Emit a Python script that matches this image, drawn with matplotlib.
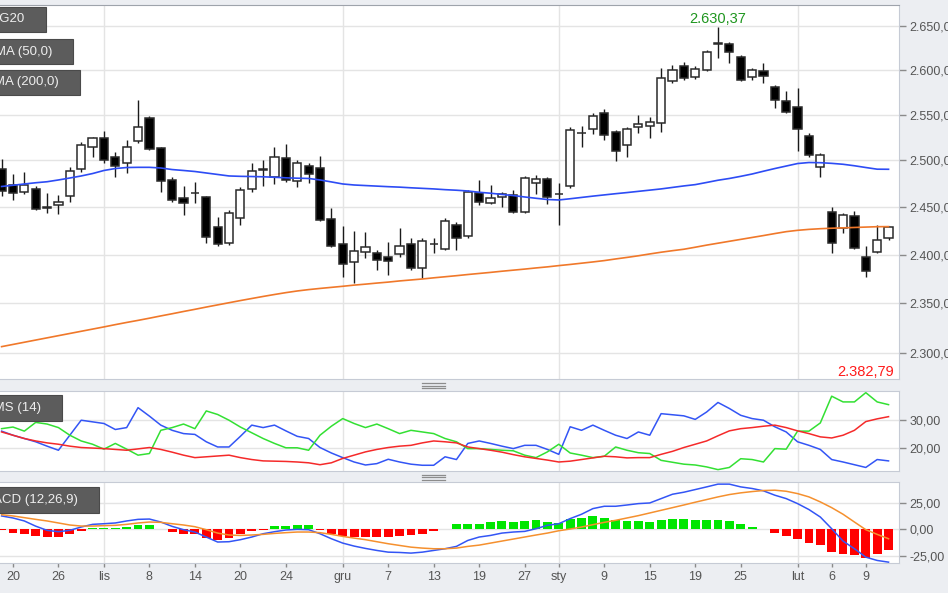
import numpy as np
import matplotlib
matplotlib.use('Agg')
import matplotlib.pyplot as plt
from matplotlib.patches import Rectangle
from matplotlib.lines import Line2D
from matplotlib.ticker import NullLocator

plt.rcParams['font.family'] = ['Liberation Sans', 'DejaVu Sans']

W, H = 948, 593

# --- WIG20 daily candles (Oct 2017 - Feb 2018) ---
opens = [2490.7, 2473.5, 2466.2, 2469.2, 2449.8, 2452.4, 2461.9, 2490.9, 2514.5, 2524.3,
         2503.7, 2497.2, 2521.2, 2546.3, 2513.3, 2478.8, 2459.7, 2465.1, 2460.5, 2428.9,
         2412.4, 2438.6, 2469.4, 2490.2, 2482.2, 2502.5, 2478.0, 2493.9, 2491.5, 2437.3,
         2410.9, 2392.5, 2402.8, 2401.7, 2397.6, 2400.8, 2410.9, 2386.3, 2411.2, 2406.2,
         2431.1, 2419.9, 2465.0, 2454.5, 2460.8, 2462.9, 2445.1, 2475.7, 2479.9, 2463.9,
         2473.0, 2529.8, 2534.4, 2551.9, 2531.0, 2516.9, 2536.7, 2537.8, 2541.1, 2587.6,
         2604.5, 2592.0, 2600.0, 2629.8, 2629.4, 2614.7, 2592.0, 2599.0, 2581.0, 2565.3,
         2558.7, 2526.7, 2493.0, 2444.6, 2428.1, 2440.3, 2397.5, 2402.9, 2417.6]
highs = [2501.4, 2485.2, 2487.5, 2472.4, 2465.0, 2462.9, 2492.8, 2519.8, 2525.3, 2531.9,
         2509.0, 2522.0, 2566.4, 2548.5, 2514.3, 2482.0, 2472.4, 2476.7, 2461.5, 2439.3,
         2446.7, 2471.1, 2497.0, 2500.3, 2514.3, 2517.6, 2500.4, 2497.1, 2505.4, 2448.8,
         2429.6, 2424.5, 2423.5, 2404.8, 2413.0, 2427.7, 2417.2, 2417.2, 2417.4, 2438.4,
         2434.2, 2468.0, 2478.7, 2473.4, 2466.1, 2468.2, 2483.1, 2484.2, 2482.0, 2475.6,
         2536.4, 2537.6, 2551.9, 2556.3, 2533.1, 2536.5, 2549.8, 2547.7, 2602.1, 2605.6,
         2609.0, 2604.5, 2622.6, 2648.9, 2631.7, 2617.0, 2602.3, 2608.0, 2583.2, 2576.5,
         2579.8, 2530.0, 2508.0, 2449.9, 2443.7, 2445.6, 2408.8, 2430.9, 2430.0]
lows = [2462.0, 2457.7, 2464.1, 2447.1, 2444.0, 2442.9, 2455.6, 2487.7, 2503.7, 2497.4,
        2482.3, 2486.6, 2519.1, 2511.5, 2466.4, 2455.6, 2441.9, 2454.6, 2412.5, 2409.2,
        2410.3, 2431.3, 2466.3, 2472.6, 2474.8, 2476.9, 2471.6, 2475.9, 2435.8, 2408.2,
        2377.1, 2371.0, 2396.7, 2384.3, 2379.2, 2397.7, 2384.3, 2376.1, 2401.9, 2405.2,
        2405.2, 2417.8, 2452.4, 2453.4, 2450.3, 2444.0, 2444.1, 2464.1, 2453.5, 2431.5,
        2470.9, 2514.7, 2529.0, 2522.4, 2499.6, 2504.0, 2530.2, 2524.7, 2531.4, 2585.3,
        2588.7, 2589.8, 2598.9, 2613.6, 2607.9, 2588.0, 2588.7, 2585.3, 2557.6, 2552.1,
        2510.5, 2504.0, 2482.3, 2402.0, 2422.9, 2406.1, 2377.0, 2401.9, 2415.5]
closes = [2467.3, 2465.1, 2473.5, 2448.2, 2449.3, 2455.5, 2488.5, 2516.6, 2524.3, 2500.6,
          2494.0, 2514.4, 2536.5, 2512.6, 2478.0, 2457.7, 2454.5, 2464.9, 2418.7, 2411.2,
          2443.6, 2468.0, 2488.5, 2490.7, 2503.6, 2479.0, 2497.1, 2485.4, 2436.7, 2409.3,
          2390.4, 2403.7, 2407.9, 2394.5, 2393.5, 2409.0, 2386.3, 2414.1, 2411.4, 2435.3,
          2417.6, 2465.9, 2455.5, 2459.7, 2464.0, 2445.0, 2480.9, 2479.9, 2460.9, 2464.0,
          2533.1, 2530.0, 2548.6, 2527.9, 2510.3, 2534.3, 2540.0, 2542.1, 2590.9, 2600.0,
          2590.9, 2601.1, 2620.3, 2630.37, 2620.3, 2588.7, 2600.0, 2593.2, 2566.4, 2553.2,
          2534.4, 2506.1, 2505.8, 2412.3, 2441.6, 2407.1, 2382.79, 2415.3, 2429.0]

sma50 = [2472.0, 2473.3, 2474.7, 2476.0, 2477.1, 2479.0, 2481.1, 2483.3, 2485.9, 2489.2,
         2491.3, 2492.4, 2492.6, 2492.6, 2491.9, 2490.2, 2489.2, 2488.1, 2486.5, 2484.9,
         2483.3, 2482.9, 2482.7, 2482.4, 2481.9, 2481.3, 2480.9, 2480.6, 2479.0, 2476.9,
         2474.7, 2473.6, 2473.0, 2472.4, 2471.8, 2471.3, 2470.6, 2470.0, 2469.4, 2468.6,
         2468.0, 2467.2, 2465.8, 2464.8, 2463.5, 2462.3, 2460.8, 2459.4, 2458.1, 2457.6,
         2458.9, 2460.3, 2461.7, 2463.0, 2464.3, 2465.5, 2466.8, 2468.1, 2469.4, 2471.0,
         2472.6, 2474.0, 2476.3, 2478.7, 2480.6, 2482.9, 2485.4, 2488.4, 2491.3, 2494.0,
         2496.7, 2497.8, 2497.6, 2496.9, 2495.9, 2494.3, 2492.4, 2490.6, 2490.5]
sma200 = [2306.3, 2308.5, 2310.7, 2312.9, 2315.1, 2317.3, 2319.5, 2321.7, 2323.9, 2326.1,
          2328.4, 2330.6, 2332.7, 2334.9, 2337.2, 2339.4, 2341.7, 2343.9, 2346.2, 2348.4,
          2350.6, 2352.8, 2354.9, 2357.0, 2359.0, 2360.9, 2362.6, 2364.0, 2365.2, 2366.3,
          2367.4, 2368.6, 2369.6, 2370.7, 2371.7, 2372.9, 2373.9, 2374.9, 2376.1, 2377.2,
          2378.3, 2379.5, 2380.6, 2381.7, 2382.9, 2384.0, 2385.1, 2386.3, 2387.4, 2388.7,
          2389.9, 2391.2, 2392.5, 2393.9, 2395.6, 2397.2, 2398.9, 2400.8, 2402.6, 2404.2,
          2405.7, 2407.8, 2410.0, 2412.0, 2414.0, 2416.0, 2418.0, 2420.0, 2422.1, 2424.1,
          2425.5, 2426.5, 2427.2, 2427.7, 2428.1, 2428.5, 2428.9, 2429.3, 2429.4]

# --- DMS (14) ---
dms_plus = [26.0, 24.5, 23.3, 22.1, 20.5, 19.0, 24.5, 30.0, 29.4, 28.8,
            26.6, 27.3, 34.6, 31.5, 28.2, 26.3, 25.1, 24.8, 22.1, 20.2,
            20.2, 24.1, 28.2, 27.3, 28.2, 26.1, 24.1, 23.3, 20.0, 18.0,
            16.3, 14.7, 13.6, 14.1, 15.7, 14.7, 13.9, 13.5, 13.5, 16.6,
            15.6, 21.5, 22.4, 21.5, 20.5, 19.6, 20.8, 20.8, 19.3, 17.5,
            27.6, 26.3, 28.2, 26.3, 24.5, 23.3, 25.7, 24.5, 32.4, 32.0,
            31.6, 30.3, 33.0, 36.5, 34.3, 31.8, 30.6, 30.0, 27.6, 25.7,
            22.1, 20.8, 19.3, 15.6, 14.7, 13.7, 12.7, 15.6, 15.1]
dms_minus = [26.9, 27.5, 26.0, 29.2, 28.6, 27.3, 24.5, 22.4, 21.2, 19.4,
             21.5, 19.4, 17.2, 17.8, 26.3, 27.3, 28.6, 26.9, 33.4, 32.1,
             30.0, 27.5, 25.4, 23.3, 21.5, 19.9, 19.9, 19.0, 24.5, 27.8,
             30.6, 28.8, 27.3, 28.6, 26.9, 25.1, 26.3, 25.7, 25.1, 23.3,
             22.1, 19.6, 19.6, 19.3, 19.0, 18.8, 17.2, 16.3, 18.4, 21.2,
             18.0, 17.2, 16.3, 16.8, 20.2, 19.0, 18.1, 17.8, 15.3, 14.6,
             13.9, 13.6, 12.9, 11.9, 12.7, 15.9, 15.6, 14.7, 19.6, 19.4,
             26.0, 26.0, 29.0, 38.8, 36.7, 36.7, 40.1, 36.7, 35.7]
adx = [25.7, 24.5, 23.3, 22.4, 21.7, 21.2, 20.5, 20.0, 19.8, 19.6,
       19.3, 19.0, 19.5, 20.0, 19.3, 18.3, 17.2, 16.3, 16.6, 16.9,
       17.2, 16.3, 15.6, 15.1, 15.0, 14.9, 14.7, 14.4, 13.7, 14.4,
       16.0, 17.2, 18.4, 19.3, 20.0, 20.5, 20.8, 21.7, 22.4, 22.1,
       21.7, 20.2, 19.6, 19.0, 18.3, 17.4, 16.6, 16.0, 15.4, 14.7,
       15.0, 15.6, 16.2, 16.8, 16.6, 16.2, 16.3, 16.3, 17.5, 18.6,
       20.0, 21.2, 22.4, 24.3, 26.1, 26.9, 27.3, 27.8, 28.2, 27.3,
       26.1, 25.1, 23.9, 23.5, 24.5, 26.3, 29.5, 30.5, 31.3]

# --- MACD (12,26,9) ---
macd = [12.6, 10.7, 7.9, 3.0, -0.9, -2.2, -0.9, 2.2, 4.7, 5.3,
        6.0, 7.9, 9.4, 9.7, 6.9, 2.8, -0.3, -2.5, -7.2, -11.9,
        -11.6, -9.7, -7.2, -4.1, -2.2, -0.6, 0.0, -0.3, -4.1, -8.8,
        -12.9, -15.7, -17.9, -19.8, -21.4, -21.7, -22.3, -21.4, -19.8, -18.2,
        -16.0, -10.4, -7.2, -5.7, -3.5, -2.5, -1.9, 0.6, 3.8, 5.3,
        10.1, 14.2, 19.5, 21.7, 21.7, 22.9, 24.2, 24.8, 28.9, 33.0,
        34.9, 37.4, 39.9, 42.5, 42.5, 39.9, 38.4, 36.2, 32.1, 28.9,
        24.2, 18.6, 11.6, 0.6, -11.0, -18.2, -26.1, -29.2, -30.8]
signal = [13.8, 12.6, 11.0, 9.4, 7.9, 6.0, 4.1, 3.1, 3.1, 3.5,
          3.8, 4.7, 6.0, 6.9, 6.6, 5.3, 4.1, 2.5, -0.3, -3.5,
          -5.3, -5.7, -5.3, -4.7, -3.8, -3.1, -2.5, -2.5, -3.1, -4.7,
          -6.6, -8.2, -9.7, -11.6, -13.5, -15.1, -16.7, -17.6, -18.2, -18.2,
          -17.6, -16.0, -14.8, -12.9, -11.0, -9.1, -7.2, -5.3, -3.5, -1.3,
          0.3, 2.2, 4.4, 6.6, 8.5, 10.7, 12.9, 15.4, 17.9, 20.4,
          22.9, 25.5, 28.0, 30.5, 32.7, 34.3, 35.5, 36.5, 36.8, 35.8,
          33.6, 30.5, 25.8, 20.4, 14.2, 6.9, -0.3, -4.7, -8.8]
hist = [-1.0, -3.5, -4.1, -6.6, -7.2, -7.2, -4.4, -1.2, 1.6, 1.6,
        1.6, 2.2, 3.8, 3.8, 0.6, -2.5, -4.7, -4.7, -7.9, -9.7,
        -7.9, -4.7, -1.9, -0.6, 3.1, 3.1, 3.8, 3.8, -0.6, -4.1,
        -6.6, -7.2, -7.2, -7.2, -7.2, -6.3, -5.0, -4.1, -1.9, 0.6,
        4.7, 5.3, 5.3, 6.9, 7.9, 6.9, 7.9, 8.5, 6.9, 6.0,
        9.4, 11.0, 12.3, 11.0, 9.1, 7.9, 7.5, 6.9, 9.1, 10.1,
        9.4, 9.1, 9.1, 9.1, 7.9, 4.7, 2.5, 0.3, -3.5, -6.3,
        -9.4, -12.9, -14.8, -21.4, -23.0, -24.5, -26.7, -23.0, -19.8]

# date labels (candle index -> label), month starts get a vertical grid line
tick_pos = [1, 5, 9, 13, 17, 21, 25, 30, 34, 38, 42, 46, 49, 53, 57, 61, 65, 70, 73, 76]
tick_lab = ['20', '26', 'lis', '8', '14', '20', '24', 'gru', '7', '13', '19', '27',
            'sty', '9', '15', '19', '25', 'lut', '6', '9']
month_pos = [9, 30, 49, 70]

price_ticks = [2300, 2350, 2400, 2450, 2500, 2550, 2600, 2650]
price_labels = ['2.300,00', '2.350,00', '2.400,00', '2.450,00', '2.500,00',
                '2.550,00', '2.600,00', '2.650,00']

BG = '#eceef2'
EDGE = '#c6cbd5'
GRID = '#e4e4e4'
TXT = '#555555'

o = np.array(opens); h = np.array(highs); l = np.array(lows); c = np.array(closes)
x = np.arange(len(c))

fig = plt.figure(figsize=(W / 100, H / 100), dpi=100, facecolor=BG)


def box(x0, y0, x1, y1):
    # pixel box (top-left origin) -> figure fraction rect
    return [x0 / W, 1 - y1 / H, (x1 - x0) / W, (y1 - y0) / H]


ax = fig.add_axes(box(0, 5, 899, 379))
ax_dms = fig.add_axes(box(0, 391, 899, 471), sharex=ax)
ax_macd = fig.add_axes(box(0, 482, 899, 563), sharex=ax)


def style(a, ticks, labels, lim):
    a.set_facecolor('white')
    a.set_ylim(*lim)
    a.yaxis.tick_right()
    a.set_yticks(ticks)
    a.set_yticklabels(labels)
    a.yaxis.set_minor_locator(NullLocator())
    a.tick_params(axis='y', length=5, width=1, color='#8a8a8a', labelcolor=TXT,
                  labelsize=9, pad=2.5)
    a.grid(True, axis='y', color=GRID, lw=1)
    for m in month_pos:
        a.axvline(m, color=GRID, lw=1, zorder=0)
    for s in a.spines.values():
        s.set_color(EDGE)
    a.spines['left'].set_visible(False)
    a.set_axisbelow(True)


ax.set_yscale('log')
style(ax, price_ticks, price_labels, (2274.2, 2674.2))
ax.spines['top'].set_color('#9ea3ab')
style(ax_dms, [20, 30], ['20,00', '30,00'], (11.4, 40.7))
style(ax_macd, [-25, 0, 25], ['-25,00', '0,00', '25,00'], (-31.6, 44.5))

ax.set_xlim(-0.14, 78.92)
ax_macd.set_xticks(tick_pos)
ax_macd.set_xticklabels(tick_lab)
for a in (ax, ax_dms):
    a.tick_params(axis='x', bottom=False, labelbottom=False)
ax_macd.tick_params(axis='x', length=3, width=1, color='#8a8a8a', labelcolor=TXT,
                    labelsize=9, pad=3)

# candles
up = c >= o
ax.vlines(x, l, h, color='#1a1a1a', lw=1, zorder=2)
ax.bar(x, np.abs(c - o), bottom=np.minimum(o, c), width=0.72,
       color=np.where(up, 'white', 'black'), edgecolor='#2a2a2a', linewidth=1.1, zorder=3)
ax.plot(x, sma50, color='#2d4cf5', lw=1.2, zorder=4)
ax.plot(x, sma200, color='#f0782a', lw=1.2, zorder=4)

# DMS
ax_dms.plot(x, dms_plus, color='#3355f5', lw=1.1)
ax_dms.plot(x, dms_minus, color='#33e033', lw=1.1)
ax_dms.plot(x, adx, color='#f52a2a', lw=1.1)

# MACD
hv = np.array(hist)
ax_macd.bar(x, hv, width=0.78, color=np.where(hv >= 0, '#00e600', '#ff0000'), zorder=2)
ax_macd.plot(x, macd, color='#3355f5', lw=1.1, zorder=3)
ax_macd.plot(x, signal, color='#f5902e', lw=1.1, zorder=3)


def fx(px):
    return px / W


def fy(py):
    return 1 - py / H


# high / low annotations
fig.text(fx(718), fy(19), '2.630,37', color='#1f961f', fontsize=10.5, ha='center', va='center')
fig.text(fx(894), fy(372), '2.382,79', color='#ff1a1a', fontsize=10.5, ha='right', va='center')

# legend tags (cut at the left edge like the original)
tags = [('WIG20', 46, 7, 32, 25), ('SMA (50,0)', 73, 39, 64, 52),
        ('SMA (200,0)', 80, 70, 95, 59), ('DMS (14)', 62, 395, 421, 41),
        ('MACD (12,26,9)', 99, 487, 513, 78)]
for label, right, top, bottom, text_end in tags:
    fig.add_artist(Rectangle((fx(-10), fy(bottom)), fx(right + 10), (bottom - top) / H,
                             transform=fig.transFigure, facecolor='#5c5c5c',
                             edgecolor='#4a4a4a', lw=0.8, zorder=5))
    fig.text(fx(text_end), fy((top + bottom) / 2), label, color='#eeeeee', fontsize=9.5,
             ha='right', va='center', zorder=6)

# panel resize handles
for yy in (383, 385.5, 388, 474.5, 477, 479.5):
    fig.add_artist(Line2D([fx(422), fx(445)], [fy(yy), fy(yy)], color='#8c8c8c', lw=0.9,
                          transform=fig.transFigure))

fig.savefig('out.png', dpi=100, facecolor=BG)
